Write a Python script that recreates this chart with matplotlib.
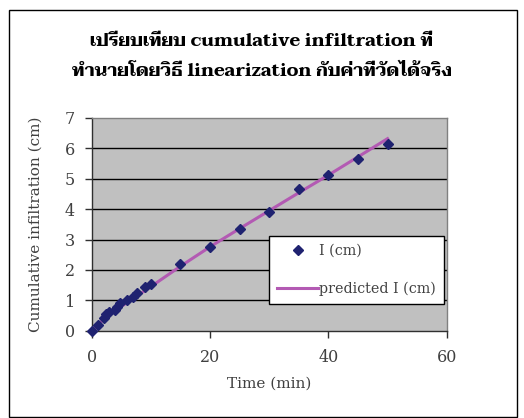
import matplotlib
matplotlib.use("Agg")
import matplotlib.pyplot as plt
from matplotlib.lines import Line2D
from matplotlib.patches import Rectangle

# Measured cumulative infiltration
time_min = [0, 1, 2, 2.5, 3, 4, 4.3, 4.8, 6, 7, 7.7, 9, 10,
            15, 20, 25, 30, 35, 40, 45, 50]
infil_cm = [0, 0.19, 0.41, 0.55, 0.63, 0.68, 0.79, 0.90, 1.01, 1.12, 1.23, 1.45, 1.54,
            2.20, 2.76, 3.34, 3.89, 4.65, 5.14, 5.64, 6.13]
# Predicted by the linearization method
pred_cm = [0, 0.20, 0.36, 0.44, 0.52, 0.66, 0.70, 0.77, 0.93, 1.06, 1.15, 1.32, 1.45,
           2.12, 2.76, 3.36, 3.95, 4.54, 5.12, 5.72, 6.32]

x_ticks = [0, 20, 40, 60]
y_ticks = [0, 1, 2, 3, 4, 5, 6, 7]

title_lines = ["เปรียบเทียบ cumulative infiltration ที่",
               "ทำนายโดยวิธี linearization กับค่าที่วัดได้จริง"]
x_label = "Time (min)"
y_label = "Cumulative infiltration (cm)"
legend_labels = ["I (cm)", "predicted I (cm)"]

serif = ["DejaVu Serif"]
title_font = ["Taviraj", "Noto Serif Thai", "DejaVu Serif"]
text_gray = "#404040"
marker_color = "#1F2270"
line_color = "#B35AB3"

W, H = 524, 418
fig = plt.figure(figsize=(W / 100, H / 100), dpi=100)
fig.patch.set_facecolor("white")

# outer chart frame
fig.add_artist(Rectangle((8.5 / W, 1 - 417 / H), (517 - 8.5) / W, (417 - 9.5) / H,
                         transform=fig.transFigure, fill=False,
                         edgecolor="black", linewidth=1.0))

# plot area in pixel coordinates
px0, px1, py_top, py_bot = 91.7, 446.7, 118.0, 330.7
ax = fig.add_axes([px0 / W, 1 - py_bot / H, (px1 - px0) / W, (py_bot - py_top) / H])
ax.set_facecolor("#C0C0C0")
ax.set_xlim(0, 60)
ax.set_ylim(0, 7)
ax.set_xticks(x_ticks)
ax.set_yticks(y_ticks)
for y in y_ticks[1:-1]:
    ax.axhline(y, color="black", linewidth=1.0, zorder=1)

for side in ("top", "right"):
    ax.spines[side].set_color("#808080")
    ax.spines[side].set_linewidth(1.0)
for side in ("left", "bottom"):
    ax.spines[side].set_color("#303030")
    ax.spines[side].set_linewidth(1.0)

ax.tick_params(axis="both", direction="out", length=5, width=1.0,
               color="#303030", labelcolor=text_gray, labelsize=11.5)
ax.tick_params(axis="x", pad=8)
ax.tick_params(axis="y", pad=7)
for lbl in ax.get_xticklabels() + ax.get_yticklabels():
    lbl.set_family(serif)

ax.plot(time_min, pred_cm, color=line_color, linewidth=2.2, zorder=3)
ax.plot(time_min, infil_cm, linestyle="none", marker="D", markersize=5.5,
        color=marker_color, zorder=4, clip_on=False)

ax.set_xlabel(x_label, family=serif, fontsize=11, color=text_gray, labelpad=8)
ax.set_ylabel(y_label, family=serif, fontsize=11, color=text_gray, labelpad=16)

fig.text(262 / W, 1 - 41 / H, title_lines[0], family=title_font, fontsize=13,
         fontweight="bold", ha="center", va="center", color="black")
fig.text(262 / W, 1 - 72 / H, title_lines[1], family=title_font, fontsize=13,
         fontweight="bold", ha="center", va="center", color="black")

# legend box anchored by its top-left corner
lx0, ly_top = 269.0, 236.0
handles = [Line2D([], [], linestyle="none", marker="D", markersize=5.5, color=marker_color),
           Line2D([], [], color=line_color, linewidth=2.2)]
leg = ax.legend(handles, legend_labels, loc="upper left",
                bbox_to_anchor=((lx0 - px0) / (px1 - px0),
                                (py_bot - ly_top) / (py_bot - py_top)),
                frameon=True, fancybox=False, framealpha=1,
                borderaxespad=0, handlelength=2.9, handletextpad=0.05,
                labelspacing=1.65, borderpad=0.55,
                prop={"family": serif, "size": 10.3})
leg.get_frame().set_edgecolor("black")
leg.get_frame().set_linewidth(1.0)
for t in leg.get_texts():
    t.set_color(text_gray)

fig.savefig("out.png", dpi=100)
